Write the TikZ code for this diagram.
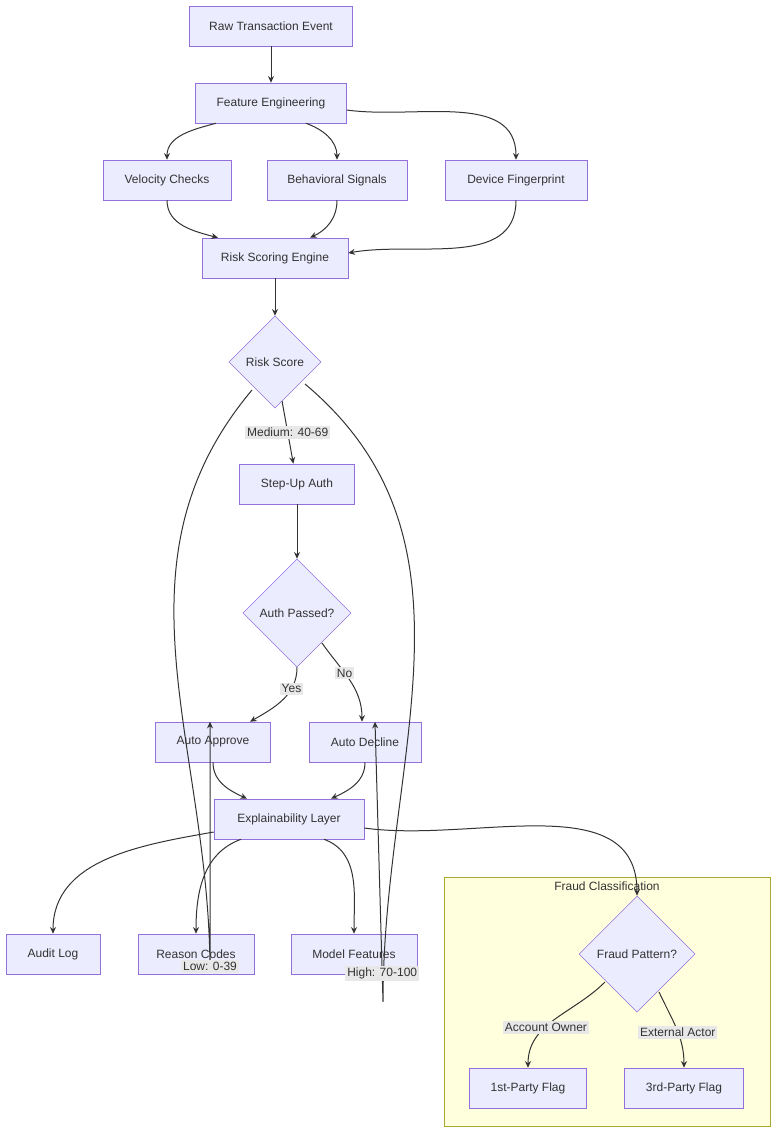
\documentclass[tikz,border=0pt]{standalone}
\usepackage{fontspec}
\setmainfont{Liberation Sans}
\usetikzlibrary{arrows.meta,calc,shapes.geometric}
\definecolor{boxfill}{HTML}{ECECFF}
\definecolor{boxline}{HTML}{9370DB}
\definecolor{edgecol}{HTML}{333333}
\definecolor{labgray}{HTML}{E8E8E8}
\definecolor{clfill}{HTML}{FFFFDE}
\definecolor{clline}{HTML}{AAAA33}
\tikzset{
  box/.style={draw=boxline,fill=boxfill,minimum height=40*0.75pt,inner sep=0pt,font=\fontsize{9}{11}\selectfont,text=edgecol},
  dia/.style={draw=boxline,fill=boxfill,diamond,aspect=1,inner sep=0pt,font=\fontsize{9}{11}\selectfont,text=edgecol},
  flow/.style={draw=edgecol,line width=0.75pt,-{Stealth[length=5pt,width=4.5pt]}},
  lab/.style={fill=labgray,inner sep=1.5pt,font=\fontsize{9}{11}\selectfont,text=edgecol}
}
\begin{document}
\begin{tikzpicture}[x=0.75pt,y=0.75pt]
    \useasboundingbox (0,0) rectangle (784,-1145);

    % Fraud Classification
    \draw[clline,fill=clfill] (444,-877) rectangle (770,-1126);
    \node[font=\fontsize{9}{11}\selectfont,text=edgecol] (clt) at (607,-886) {Fraud Classification};

    % Nodes
    \node[box,minimum width=163*0.75pt] (raw) at (271,-26) {Raw Transaction Event};
    \node[box,minimum width=151*0.75pt] (feat) at (271,-103) {Feature Engineering};
    \node[box,minimum width=128*0.75pt] (vel) at (167,-180) {Velocity Checks};
    \node[box,minimum width=140*0.75pt] (beh) at (337,-180) {Behavioral Signals};
    \node[box,minimum width=142*0.75pt] (dev) at (516,-180) {Device Fingerprint};
    \node[box,minimum width=146*0.75pt] (risk) at (275,-258) {Risk Scoring Engine};
    \node[dia,minimum size=92*0.75pt] (score) at (275,-362) {Risk Score};
    \node[box,minimum width=115*0.75pt] (step) at (297,-484) {Step-Up Auth};
    \node[dia,minimum size=108*0.75pt] (auth) at (297,-613) {Auth Passed?};
    \node[box,minimum width=115*0.75pt] (approve) at (213,-742) {Auto Approve};
    \node[box,minimum width=112*0.75pt] (decline) at (365,-742) {Auto Decline};
    \node[box,minimum width=150*0.75pt] (expl) at (289,-819) {Explainability Layer};
    \node[box,minimum width=94*0.75pt] (audit) at (53,-954) {Audit Log};
    \node[box,minimum width=116*0.75pt] (reason) at (196,-954) {Reason Codes};
    \node[box,minimum width=126*0.75pt] (model) at (354,-954) {Model Features};
    \node[dia,minimum size=116*0.75pt] (fraud) at (637,-954) {Fraud Pattern?};
    \node[box,minimum width=117*0.75pt] (first) at (528,-1088) {1st-Party Flag};
    \node[box,minimum width=119*0.75pt] (third) at (684,-1088) {3rd-Party Flag};

    % Edges
    \draw[flow] (raw) -- (feat);
    \draw[flow] ($(feat.south)+(-55,0)$) to[out=195,in=90] (vel.north);
    \draw[flow] ($(feat.south)+(35,0)$) to[out=-20,in=90] (beh.north);
    \draw[flow] ($(feat.east)+(0,-7)$) to[out=-8,in=90] (dev.north);
    \draw[flow] (vel.south) to[out=-90,in=165] ($(risk.north)+(-57,0)$);
    \draw[flow] (beh.south) to[out=-90,in=25] ($(risk.north)+(35,0)$);
    \draw[flow] (dev.south) to[out=-90,in=10] ($(risk.east)+(0,5)$);
    \draw[flow] (risk) -- (score);
    \draw[flow] (score) -- node[lab,pos=0.5]{Medium: 40-69} (step);
    \draw[flow] ($(score.center)+(-23,-28)$) to[out=-130,in=90] ($(approve.north)+(-3,-250)$)
        -- node[lab,pos=0.02]{Low: 0-39} ($(approve.north)+(-3,0)$);
    \draw[flow] ($(score.center)+(30,-22)$) to[out=-40,in=90] ($(decline.north)+(18,-280)$)
        -- node[lab,pos=0.1]{High: 70-100} ($(decline.north)+(10,0)$);
    \draw[flow] (step) -- (auth);
    \draw[flow] (auth.south) to[out=-90,in=30] node[lab,pos=0.3]{Yes} ($(approve.north)+(37,0)$);
    \draw[flow] ($(auth.center)+(25,-30)$) to[out=-55,in=90] node[lab,pos=0.4]{No} ($(decline.north)+(-3,0)$);
    \draw[flow] (approve.south) to[out=-90,in=155] ($(expl.north)+(-42,0)$);
    \draw[flow] (decline.south) to[out=-90,in=25] ($(expl.north)+(42,0)$);
    \draw[flow] ($(expl.west)+(0,-13)$) to[out=190,in=90] (audit.north);
    \draw[flow] ($(expl.south)+(-48,0)$) to[out=200,in=90] (reason.north);
    \draw[flow] ($(expl.south)+(35,0)$) to[out=-20,in=90] (model.north);
    \draw[flow] ($(expl.east)+(0,-9)$) to[out=-8,in=90] (fraud.north);
    \draw[flow] ($(fraud.center)+(-32,-28)$) to[out=-135,in=90] node[lab,pos=0.6]{Account Owner} (first.north);
    \draw[flow] ($(fraud.center)+(22,-38)$) to[out=-65,in=90] node[lab,pos=0.55]{External Actor} (third.north);
\end{tikzpicture}
\end{document}
